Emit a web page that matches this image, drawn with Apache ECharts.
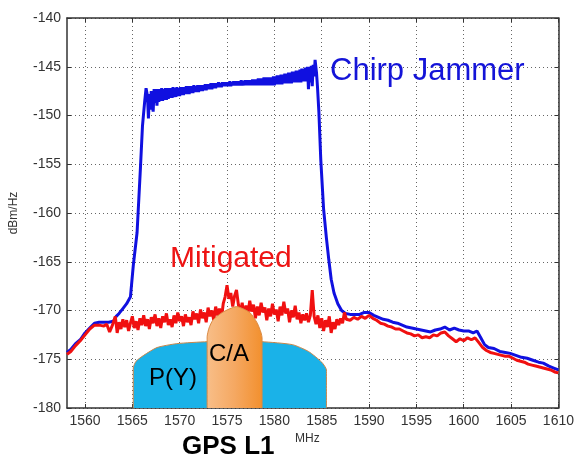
<!DOCTYPE html>
<html>
<head>
<meta charset="utf-8">
<script src="https://cdn.jsdelivr.net/npm/echarts@6/dist/echarts.min.js"></script>
<style>html,body{margin:0;padding:0;background:#fff}#c{width:577px;height:459px}</style>
</head>
<body>
<div id="c"></div>
<script>
// X tick values (MHz) and Y tick values (dBm/Hz)
const xTicks = [1560, 1565, 1570, 1575, 1580, 1585, 1590, 1595, 1600, 1605, 1610];
const yTicks = [-180, -175, -170, -165, -160, -155, -150, -145, -140];

// Chirp Jammer spectrum [MHz, dBm/Hz]
const chirpJammer = [
[1558.1,-174.3],[1558.5,-174.0],[1559,-173.4],[1559.5,-173.0],[1560,-172.3],[1560.5,-171.8],[1561,-171.3],
[1561.5,-171.2],[1562,-171.2],[1562.5,-171.2],[1563,-171.1],[1563.3,-170.6],[1563.6,-170.3],[1564,-169.8],
[1564.4,-169.3],[1564.8,-168.6],[1565.1,-165.4],[1565.5,-162.0],[1565.86,-155.3],[1566.07,-151.1],
[1566.3,-148.6],[1566.45,-147.2],[1566.6,-148.0],[1566.7,-150.3],[1566.8,-147.8],[1566.9,-149.4],[1567.0,-147.5],[1567.1,-148.9],
[1567.2,-149.6],[1567.3,-147.3],[1567.4,-148.7],[1567.5,-147.3],[1567.6,-149.0],[1567.7,-147.3],[1567.8,-148.6],[1567.9,-147.3],
[1568.0,-148.5],[1568.1,-147.2],[1568.2,-148.5],[1568.3,-147.3],[1568.4,-148.4],[1568.5,-147.2],[1568.6,-148.4],[1568.7,-147.2],
[1568.8,-148.3],[1568.9,-147.2],[1569.0,-148.2],[1569.1,-147.2],[1569.2,-148.2],[1569.3,-147.1],[1569.4,-148.1],[1569.5,-147.2],
[1569.6,-148.1],[1569.7,-147.1],[1569.8,-148.0],[1569.9,-147.2],[1570.0,-148.0],[1570.1,-147.1],[1570.2,-147.9],[1570.3,-147.1],
[1570.4,-147.9],[1570.5,-147.1],[1570.6,-147.8],[1570.7,-147.0],[1570.8,-147.8],[1570.9,-147.0],[1571.0,-147.8],[1571.1,-147.0],
[1571.2,-147.7],[1571.3,-147.0],[1571.4,-147.7],[1571.5,-146.9],[1571.6,-147.6],[1571.7,-147.0],[1571.8,-147.6],[1571.9,-146.9],
[1572.0,-147.6],[1572.1,-146.9],[1572.2,-147.5],[1572.3,-146.9],[1572.4,-147.5],[1572.5,-146.9],[1572.6,-147.4],[1572.7,-146.8],
[1572.8,-147.4],[1572.9,-146.8],[1573.0,-147.3],[1573.1,-146.8],[1573.2,-147.3],[1573.3,-146.7],[1573.4,-147.3],[1573.5,-146.7],
[1573.6,-147.2],[1573.7,-146.7],[1573.8,-147.2],[1573.9,-146.7],[1574.0,-147.1],[1574.1,-146.6],[1574.2,-147.1],[1574.3,-146.7],
[1574.4,-147.1],[1574.5,-146.6],[1574.6,-147.0],[1574.7,-146.6],[1574.8,-147.0],[1574.9,-146.6],[1575.0,-147.0],[1575.1,-146.6],
[1575.2,-147.0],[1575.3,-146.5],[1575.4,-147.0],[1575.5,-146.6],[1575.6,-146.9],[1575.7,-146.5],[1575.8,-146.9],[1575.9,-146.5],
[1576.0,-146.9],[1576.1,-146.5],[1576.2,-146.9],[1576.3,-146.5],[1576.4,-146.9],[1576.5,-146.4],[1576.6,-146.9],[1576.7,-146.5],
[1576.8,-146.9],[1576.9,-146.4],[1577.0,-146.9],[1577.1,-146.4],[1577.2,-146.9],[1577.3,-146.4],[1577.4,-146.9],[1577.5,-146.4],
[1577.6,-146.9],[1577.7,-146.3],[1577.8,-146.9],[1577.9,-146.3],[1578.0,-146.9],[1578.1,-146.3],[1578.2,-146.9],[1578.3,-146.2],
[1578.4,-146.9],[1578.5,-146.2],[1578.6,-146.9],[1578.7,-146.2],[1578.8,-146.9],[1578.9,-146.1],[1579.0,-146.9],[1579.1,-146.1],
[1579.2,-146.9],[1579.3,-146.1],[1579.4,-146.9],[1579.5,-146.1],[1579.6,-146.9],[1579.7,-146.1],[1579.8,-146.9],[1579.9,-146.0],
[1580.0,-146.9],[1580.1,-146.0],[1580.2,-146.8],[1580.3,-145.9],[1580.4,-146.8],[1580.5,-145.9],[1580.6,-146.8],[1580.7,-145.8],
[1580.8,-146.8],[1580.9,-145.8],[1581.0,-146.7],[1581.1,-145.7],[1581.2,-146.7],[1581.3,-145.7],[1581.4,-146.7],[1581.5,-145.6],
[1581.6,-146.7],[1581.7,-145.6],[1581.8,-146.7],[1581.9,-145.5],[1582.0,-146.6],[1582.1,-145.5],[1582.2,-146.6],[1582.3,-145.4],
[1582.4,-146.6],[1582.5,-145.4],[1582.6,-146.6],[1582.7,-145.3],[1582.8,-146.6],[1582.9,-145.2],[1583.0,-146.5],[1583.1,-145.2],
[1583.2,-146.5],[1583.3,-145.1],[1583.4,-146.5],[1583.5,-145.0],[1583.6,-147.3],[1583.7,-145.0],[1583.8,-146.6],[1583.9,-144.9],
[1584.0,-147.0],[1584.1,-144.8],[1584.2,-146.0],[1584.3,-144.3],
[1584.45,-145.6],[1584.55,-147.0],[1584.7,-149.6],[1584.9,-154.5],[1585.2,-159.6],[1585.5,-162.6],
[1585.75,-164.8],[1586.0,-166.8],[1586.3,-168.2],[1586.7,-169.3],[1587.1,-170.0],[1587.5,-170.3],[1588,-170.4],
[1588.5,-170.4],[1589,-170.4],[1589.5,-170.2],[1590,-170.2],[1590.5,-170.5],[1591,-170.7],[1591.5,-170.9],[1592,-171.0],
[1592.5,-171.2],[1593,-171.3],[1593.5,-171.5],[1594,-171.7],[1594.5,-171.8],[1595,-171.9],[1595.5,-172.0],[1596,-172.1],
[1596.5,-172.2],[1597,-172.0],[1597.5,-171.9],[1598,-171.7],[1598.5,-172.0],[1599,-171.8],[1599.5,-172.0],[1600,-172.1],
[1600.5,-172.1],[1601,-172.3],[1601.4,-172.1],[1601.8,-172.8],[1602.2,-173.5],[1602.6,-173.8],[1603.2,-173.9],
[1603.8,-174.2],[1604.4,-174.3],[1604.9,-174.4],[1605.5,-174.6],[1606.1,-174.8],[1606.7,-174.9],[1607.3,-175.1],
[1607.9,-175.3],[1608.4,-175.4],[1609,-175.7],[1609.5,-175.9],[1610,-176.1]
];

// Mitigated spectrum [MHz, dBm/Hz]
const mitigated = [
[1558.1,-174.5],[1558.5,-174.2],[1559,-173.6],[1559.5,-173.1],[1560,-172.5],[1560.5,-171.9],[1561,-171.5],
[1561.5,-171.5],[1562,-171.6],[1562.3,-171.4],[1562.6,-172.2],[1562.9,-171.5],
[1563.0,-171.4],[1563.2,-170.6],[1563.4,-172.3],[1563.6,-171.2],[1563.8,-171.9],[1564.0,-170.9],[1564.2,-171.7],
[1564.4,-171.0],[1564.6,-172.1],[1564.8,-171.3],[1565.0,-170.6],[1565.2,-171.8],[1565.4,-171.1],[1565.6,-172.0],
[1565.8,-170.8],[1566.0,-171.5],[1566.2,-170.5],[1566.4,-171.6],[1566.6,-170.9],[1566.8,-171.9],[1567.0,-170.7],
[1567.2,-171.3],[1567.4,-170.4],[1567.6,-171.6],[1567.8,-170.8],[1568.0,-171.8],[1568.2,-170.6],[1568.4,-171.2],
[1568.6,-170.3],[1568.8,-171.5],[1569.0,-170.9],[1569.2,-171.7],[1569.4,-170.5],[1569.6,-171.3],[1569.8,-170.2],
[1570.0,-171.1],[1570.2,-170.6],[1570.4,-171.6],[1570.6,-170.4],[1570.8,-171.2],[1571.0,-170.7],[1571.2,-171.5],
[1571.4,-170.1],[1571.6,-170.9],[1571.8,-170.3],[1572.0,-171.3],[1572.2,-169.9],[1572.4,-170.8],[1572.6,-170.2],
[1572.8,-171.2],[1573.0,-169.7],[1573.2,-170.6],[1573.4,-170.0],[1573.6,-171.0],[1573.8,-169.6],[1574.0,-170.5],
[1574.2,-169.8],[1574.4,-170.9],[1574.6,-169.3],[1574.8,-168.6],[1575.0,-167.4],[1575.2,-168.8],[1575.4,-168.2],
[1575.6,-169.6],[1575.8,-168.5],[1576.0,-167.9],[1576.2,-169.4],[1576.4,-170.3],[1576.6,-169.2],[1576.8,-170.6],
[1577.0,-169.5],[1577.2,-170.4],[1577.4,-169.0],[1577.6,-170.1],[1577.8,-169.4],[1578.0,-170.8],[1578.2,-169.6],
[1578.4,-170.5],[1578.6,-169.2],[1578.8,-170.2],[1579.0,-169.7],[1579.2,-171.0],[1579.4,-169.8],[1579.6,-170.6],
[1579.8,-169.3],[1580.0,-170.4],[1580.2,-169.9],[1580.4,-171.1],[1580.6,-169.6],[1580.8,-170.5],[1581.0,-169.1],
[1581.2,-170.3],[1581.4,-169.8],[1581.6,-171.2],[1581.8,-170.0],[1582.0,-170.7],[1582.2,-169.5],[1582.4,-170.9],
[1582.6,-170.2],[1582.8,-171.3],[1583.0,-170.4],[1583.2,-171.0],[1583.4,-170.3],[1583.6,-171.2],[1583.8,-170.5],
[1584.0,-167.9],[1584.2,-170.6],[1584.4,-171.4],[1584.6,-170.5],[1584.8,-171.8],[1585.0,-170.8],[1585.2,-172.1],
[1585.4,-171.0],[1585.6,-171.7],[1585.8,-170.6],[1586.0,-172.3],[1586.2,-171.2],[1586.4,-171.9],[1586.6,-170.9],
[1586.8,-171.5],[1587.0,-170.8],[1587.2,-171.3],[1587.4,-170.2],[1587.6,-170.9],
[1588.0,-171.0],[1588.4,-170.7],[1588.8,-170.9],[1589.2,-170.6],[1589.6,-170.8],[1590.0,-170.5],[1590.4,-170.8],
[1590.8,-171.0],[1591.2,-171.3],[1591.6,-171.4],[1592.0,-171.6],[1592.4,-171.7],[1592.8,-171.9],[1593.2,-171.9],
[1593.6,-172.1],[1594.0,-172.3],[1594.4,-172.4],[1594.8,-172.6],[1595.2,-172.5],[1595.6,-172.8],[1596.0,-172.7],
[1596.4,-172.8],[1596.8,-172.5],[1597.2,-172.6],[1597.6,-172.3],[1598.0,-172.2],[1598.4,-172.6],[1598.8,-172.9],
[1599.2,-173.2],[1599.6,-172.9],[1600.0,-173.1],[1600.4,-172.8],[1600.8,-173.0],[1601.2,-172.8],[1601.6,-173.3],
[1602.0,-173.8],[1602.4,-174.1],[1602.8,-174.3],[1603.2,-174.4],[1603.6,-174.5],[1604.0,-174.6],[1604.4,-174.7],
[1604.8,-174.7],[1605.2,-174.9],[1605.6,-175.1],[1606.0,-175.2],[1606.4,-175.3],[1606.8,-175.5],[1607.2,-175.6],
[1607.6,-175.7],[1608.0,-175.8],[1608.4,-175.9],[1608.8,-176.0],[1609.2,-176.1],[1609.6,-176.3],[1610.0,-176.4]
];

// GPS L1 signal outlines [MHz, dBm/Hz]
const pyShape = [
[1565.1,-180],[1565.1,-175.9],[1565.4,-175.2],[1566.2,-174.6],[1567.6,-173.8],[1569.7,-173.4],[1572.9,-173.2],
[1575.8,-173.15],[1578.7,-173.2],[1581.9,-173.5],[1583.6,-174.2],[1585.0,-175.3],[1585.5,-176.1],[1585.5,-180]
];
const caShape = [
[1572.9,-180],[1572.9,-172.7],[1573.1,-171.8],[1573.5,-171.0],[1574.5,-170.2],[1576.0,-169.6],[1577.4,-170.2],
[1578.2,-171.3],[1578.6,-172.3],[1578.7,-172.8],[1578.7,-180]
];

const FONT = 'Liberation Sans, Arial, sans-serif';
const chart = echarts.init(document.getElementById('c'), null, {renderer: 'canvas'});

const gridLine = {show: true, lineStyle: {color: '#666', width: 1, type: [1, 3]}};
const axisLine = {show: true, lineStyle: {color: '#333', width: 1.5}};

chart.setOption({
  animation: false,
  backgroundColor: '#fff',
  grid: {left: 66, right: 15, top: 18, bottom: 51, containLabel: false},
  xAxis: [{
    type: 'value', min: 1558.1, max: 1610, position: 'bottom',
    axisLine: axisLine,
    axisTick: {show: true, inside: true, length: 4, customValues: xTicks, lineStyle: {color: '#333'}},
    axisLabel: {customValues: xTicks, color: '#333', fontSize: 14, fontFamily: FONT, margin: 6,
                formatter: function (v) { return String(v); }},
    splitLine: gridLine
  }, {
    type: 'value', min: 1558.1, max: 1610, position: 'top',
    axisLine: axisLine,
    axisTick: {show: true, inside: true, length: 4, customValues: xTicks, lineStyle: {color: '#333'}},
    axisLabel: {show: false}, splitLine: {show: false}
  }],
  yAxis: [{
    type: 'value', min: -180, max: -140, interval: 5, position: 'left',
    axisLine: axisLine,
    axisTick: {show: true, inside: true, length: 4, lineStyle: {color: '#333'}},
    axisLabel: {color: '#333', fontSize: 14, fontFamily: FONT, margin: 6},
    splitLine: gridLine,
    name: 'dBm/Hz', nameLocation: 'middle', nameGap: 47, nameRotate: 90,
    nameTextStyle: {color: '#333', fontSize: 12, fontFamily: FONT}
  }, {
    type: 'value', min: -180, max: -140, interval: 5, position: 'right',
    axisLine: axisLine,
    axisTick: {show: true, inside: true, length: 4, lineStyle: {color: '#333'}},
    axisLabel: {show: false}, splitLine: {show: false}
  }],
  series: [{
    name: 'Chirp Jammer', type: 'line', data: chirpJammer, showSymbol: false, z: 2,
    lineStyle: {color: '#1010E0', width: 3}
  }, {
    name: 'Mitigated', type: 'line', data: mitigated, showSymbol: false, z: 3,
    lineStyle: {color: '#F01010', width: 3}
  }, {
    name: 'P(Y)', type: 'line', data: pyShape, showSymbol: false, z: 4, smooth: 0.2,
    lineStyle: {color: '#C8864A', width: 1},
    areaStyle: {color: '#1AB2E8', opacity: 1, origin: 'start'}
  }, {
    name: 'C/A', type: 'line', data: caShape, showSymbol: false, z: 5, smooth: 0.2,
    lineStyle: {color: '#D98A45', width: 1},
    areaStyle: {opacity: 1, origin: 'start', color: new echarts.graphic.LinearGradient(0, 0, 1, 0, [
      {offset: 0, color: '#F8BE88'}, {offset: 0.5, color: '#F5A862'}, {offset: 1, color: '#F2902E'}])}
  }],
  graphic: [
    {type: 'text', left: 330, top: 56, z: 10, style: {text: 'Chirp Jammer', font: '31px ' + FONT, fill: '#1414D8'}},
    {type: 'text', left: 170, top: 244, z: 10, style: {text: 'Mitigated', font: '30px ' + FONT, fill: '#EE1414'}},
    {type: 'text', left: 149, top: 366, z: 10, style: {text: 'P(Y)', font: '24px ' + FONT, fill: '#000'}},
    {type: 'text', left: 209, top: 342, z: 10, style: {text: 'C/A', font: '24px ' + FONT, fill: '#000'}},
    {type: 'text', left: 182, top: 434, z: 10, style: {text: 'GPS L1', font: 'bold 26px ' + FONT, fill: '#000'}},
    {type: 'text', left: 295, top: 433, z: 10, style: {text: 'MHz', font: '12px ' + FONT, fill: '#333'}}
  ]
});
</script>
</body>
</html>
